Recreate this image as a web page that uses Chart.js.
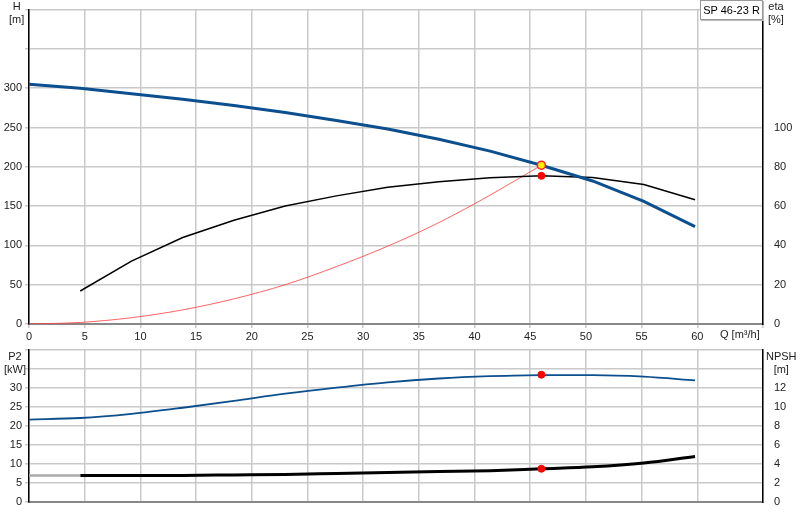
<!DOCTYPE html>
<html>
<head>
<meta charset="utf-8">
<script src="https://cdn.jsdelivr.net/npm/chart.js@4"></script>
<style>
  body { margin: 0; background: #fff; font-family: "Liberation Sans", sans-serif; }
  #wrap { position: relative; width: 800px; height: 520px; }
  canvas { position: absolute; left: 0; }
  .lbl { position: absolute; font-size: 11px; color: #222; text-align: center; line-height: 13px; white-space: nowrap; }
  #box { position: absolute; left: 700px; top: 0; width: 61px; height: 18px; border: 1px solid #999; white-space: nowrap;
         font-size: 11px; line-height: 18px; text-align: center; background: #fff; box-shadow: 1px 1px 0 #bbb; }
</style>
</head>
<body>
<div id="wrap">
  <canvas id="top" width="800" height="345" style="top:0"></canvas>
  <canvas id="bot" width="800" height="180" style="top:340px"></canvas>
  <div class="lbl" style="left:9px;top:0">H<br>[m]</div>
  <div class="lbl" style="left:768px;top:0">eta<br>[%]</div>
  <div class="lbl" style="left:720px;top:328px">Q [m³/h]</div>
  <div class="lbl" style="left:4px;top:350px">P2<br>[kW]</div>
  <div class="lbl" style="left:766px;top:350px">NPSH<br>[m]</div>
  <div id="box">SP 46-23 R</div>
</div>
<script>
var flow = [0, 4.6, 9.2, 13.8, 18.4, 23, 27.6, 32.2, 36.8, 41.4, 46, 50.6, 55.2, 59.8]
var head = [305, 300, 293, 286, 278, 269, 259, 248, 235, 220, 202, 182, 156, 124]
var etaFlow = [4.6, 9.2, 13.8, 18.4, 23, 27.6, 32.2, 36.8, 41.4, 46, 50.6, 55.2, 59.8]
var eta = [16.8, 32, 44, 52.8, 60, 65.2, 69.6, 72.4, 74.4, 75.4, 74.6, 71, 63.2]
var sysFlow = [0, 4.6, 9.2, 13.8, 18.4, 23, 27.6, 32.2, 36.8, 41.4, 46]
var sysHead = [0, 2, 8, 18, 32, 50, 73, 99, 129, 164, 202]
var p2 = [21.7, 22.1, 23.2, 24.8, 26.6, 28.5, 30.1, 31.5, 32.5, 33.1, 33.4, 33.4, 33.0, 32.0]
var npshFlow = [4.6, 9.2, 13.8, 18.4, 23, 27.6, 32.2, 36.8, 41.4, 46, 50.6, 55.2, 59.8]
var npsh = [2.8, 2.8, 2.8, 2.85, 2.9, 3.0, 3.1, 3.2, 3.3, 3.5, 3.7, 4.1, 4.8]
var npshLow = [[0, 2.8], [4.6, 2.8]]
var duty = { q: 46, h: 202, eta: 75.4, p2: 33.5, npsh: 3.5 }

var font = { family: 'Liberation Sans', size: 11 }
var gridColor = '#c9c9c9'

function pts(xs, ys) {
  return xs.map(function(x, i) { return { x: x, y: ys[i] } })
}
function fixW(w) { return function(s) { s.width = w } }
function fixH(h) { return function(s) { s.height = h } }

var xAxis = function(show) {
  return {
    type: 'linear', min: 0, max: 65.9,
    ticks: { display: show, stepSize: 5, color: '#222', font: font, maxRotation: 0, padding: 2,
      callback: function(v) { return v <= 60 ? v : '' } },
    grid: { color: gridColor, lineWidth: 1.5, drawTicks: show, tickLength: 4 },
    border: { color: '#888', width: 2 },
    afterFit: fixH(show ? 21 : 0),
  }
}

new Chart(document.getElementById('top'), {
  type: 'scatter',
  data: {
    datasets: [
      { data: [{ x: duty.q, y: duty.h }], yAxisID: 'y', pointRadius: 4, backgroundColor: '#ffee00', borderColor: '#ff2020', borderWidth: 1.5 },
      { data: [{ x: duty.q, y: duty.eta }], yAxisID: 'y2', pointRadius: 3.5, backgroundColor: '#ff0000', borderColor: '#ff0000' },
      { data: pts(flow, head), yAxisID: 'y', showLine: true, borderColor: '#0b4f8e', borderWidth: 3, pointRadius: 0 },
      { data: pts(etaFlow, eta), yAxisID: 'y2', showLine: true, borderColor: '#000', borderWidth: 1.5, pointRadius: 0 },
      { data: pts(sysFlow, sysHead), yAxisID: 'y', showLine: true, borderColor: 'rgba(255,60,60,0.8)', borderWidth: 1, pointRadius: 0, cubicInterpolationMode: 'monotone' },
    ],
  },
  options: {
    responsive: false, animation: false,
    layout: { padding: { top: 0, bottom: 0, left: 0, right: 0 } },
    plugins: { legend: { display: false }, tooltip: { enabled: false } },
    scales: {
      x: xAxis(true),
      y: { position: 'left', min: 0, max: 400, ticks: { stepSize: 50, color: '#222', font: font, padding: 3,
             callback: function(v) { return v <= 300 ? v : '' } },
           grid: { color: gridColor, lineWidth: 1.5, tickLength: 4 }, border: { color: '#000', width: 1.5 }, afterFit: fixW(29) },
      y2: { position: 'right', min: 0, max: 160, ticks: { stepSize: 20, color: '#222', font: font, padding: 3,
             callback: function(v) { return v <= 100 ? v : '' } },
           grid: { display: false }, border: { color: '#000', width: 1.5 }, afterFit: fixW(37) },
    },
  },
})

new Chart(document.getElementById('bot'), {
  type: 'scatter',
  data: {
    datasets: [
      { data: [{ x: duty.q, y: duty.p2 }], yAxisID: 'y', pointRadius: 3.5, backgroundColor: '#ff0000', borderColor: '#ff0000' },
      { data: [{ x: duty.q, y: duty.npsh }], yAxisID: 'y2', pointRadius: 3.5, backgroundColor: '#ff0000', borderColor: '#ff0000' },
      { data: pts(flow, p2), yAxisID: 'y', showLine: true, borderColor: '#0b4f8e', borderWidth: 1.8, pointRadius: 0, cubicInterpolationMode: 'monotone' },
      { data: npshLow.map(function(p) { return { x: p[0], y: p[1] } }), yAxisID: 'y2', showLine: true, borderColor: '#aaa', borderWidth: 2.5, pointRadius: 0 },
      { data: pts(npshFlow, npsh), yAxisID: 'y2', showLine: true, borderColor: '#000', borderWidth: 3, pointRadius: 0, cubicInterpolationMode: 'monotone' },
    ],
  },
  options: {
    responsive: false, animation: false,
    layout: { padding: { top: 10, bottom: 18, left: 0, right: 0 } },
    plugins: { legend: { display: false }, tooltip: { enabled: false } },
    scales: {
      x: xAxis(false),
      y: { position: 'left', min: 0, max: 40, ticks: { stepSize: 5, color: '#222', font: font, padding: 3,
             callback: function(v) { return v <= 30 ? v : '' } },
           grid: { color: gridColor, lineWidth: 1.5, tickLength: 4 }, border: { color: '#000', width: 1.5 }, afterFit: fixW(29) },
      y2: { position: 'right', min: 0, max: 16, ticks: { stepSize: 2, color: '#222', font: font, padding: 3,
             callback: function(v) { return v <= 12 ? v : '' } },
           grid: { display: false }, border: { color: '#000', width: 1.5 }, afterFit: fixW(37) },
    },
  },
})
</script>
</body>
</html>
